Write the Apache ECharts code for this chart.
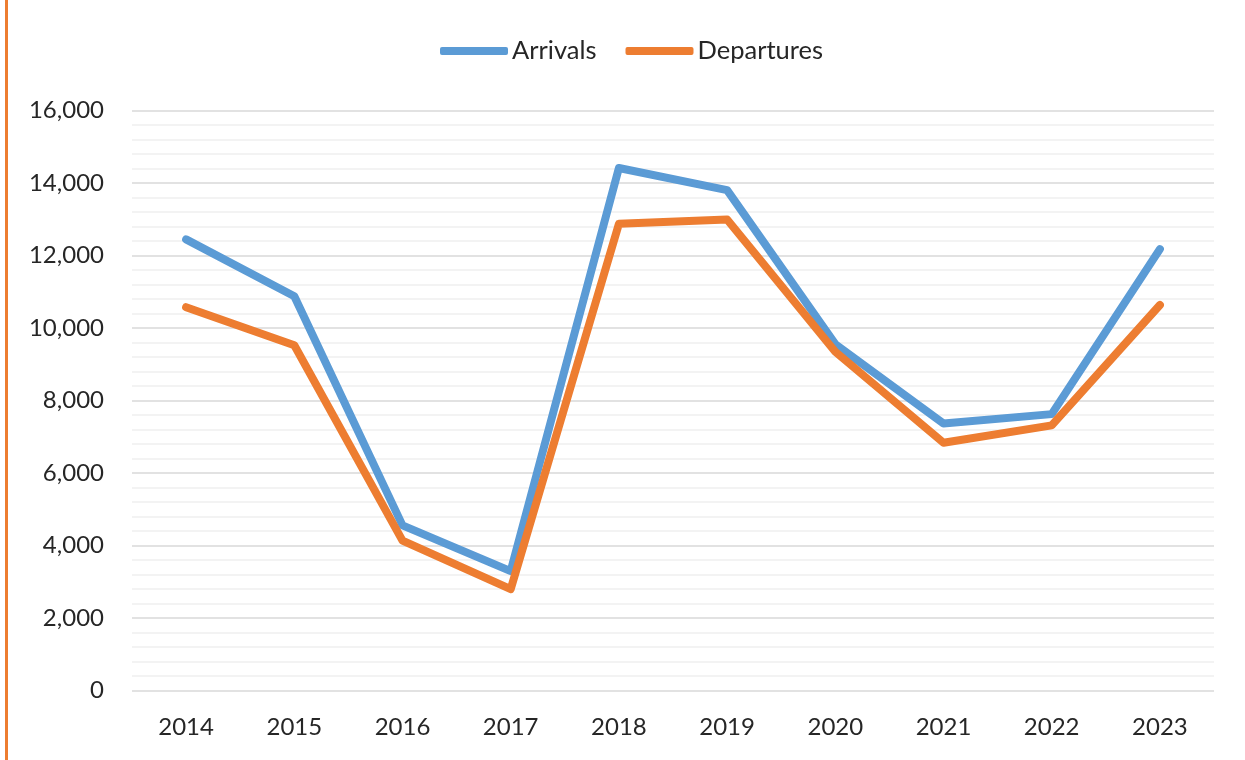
<!DOCTYPE html>
<html>
<head>
<meta charset="utf-8">
<script src="https://cdn.jsdelivr.net/npm/echarts@6/dist/echarts.min.js"></script>
<style>
  html, body { margin: 0; padding: 0; background: #fff; }
  #main { width: 1245px; height: 760px; }
</style>
</head>
<body>
<div id="main"></div>
<script>
const years = ['2014', '2015', '2016', '2017', '2018', '2019', '2020', '2021', '2022', '2023'];
const arrivals = [12450, 10880, 4560, 3300, 14420, 13810, 9560, 7370, 7630, 12180];
const departures = [10580, 9530, 4140, 2800, 12880, 13000, 9350, 6840, 7320, 10640];

const textColor = '#262626';
const font = 'Lato';

const chart = echarts.init(document.getElementById('main'));

const option = {
  animation: false,
  textStyle: { fontFamily: font },
  graphic: [{
    type: 'rect',
    shape: { x: 5, y: 0, width: 3, height: 760 },
    style: { fill: '#ED7D31' }
  }],
  legend: {
    top: 33,
    left: 435,
    icon: 'roundRect',
    itemWidth: 68,
    itemHeight: 8,
    itemGap: 29,
    textStyle: { fontFamily: font, fontSize: 25.5, color: textColor, padding: [0, 0, 0, -1] },
    data: ['Arrivals', 'Departures']
  },
  grid: { left: 132, right: 31, top: 110.7, bottom: 69.3, containLabel: false },
  xAxis: {
    type: 'category',
    data: years,
    boundaryGap: true,
    axisLine: { show: false },
    axisTick: { show: false },
    axisLabel: { fontFamily: font, fontSize: 24, color: textColor, margin: 25 }
  },
  yAxis: {
    type: 'value',
    min: 0,
    max: 16000,
    interval: 2000,
    axisLine: { show: false },
    axisTick: { show: false },
    axisLabel: {
      fontFamily: font, fontSize: 24, color: textColor, margin: 28,
      formatter: v => v.toLocaleString('en-US')
    },
    splitLine: { lineStyle: { color: '#D9D9D9', width: 1.5 } },
    minorTick: { show: false, splitNumber: 5 },
    minorSplitLine: { show: true, lineStyle: { color: '#F0F0F0', width: 1.5 } }
  },
  series: [
    {
      name: 'Arrivals',
      type: 'line',
      data: arrivals,
      symbol: 'none',
      color: '#5B9BD5',
      lineStyle: { width: 8, color: '#5B9BD5', cap: 'round', join: 'round' }
    },
    {
      name: 'Departures',
      type: 'line',
      data: departures,
      symbol: 'none',
      color: '#ED7D31',
      lineStyle: { width: 8, color: '#ED7D31', cap: 'round', join: 'round' }
    }
  ]
};

chart.setOption(option);
</script>
</body>
</html>
